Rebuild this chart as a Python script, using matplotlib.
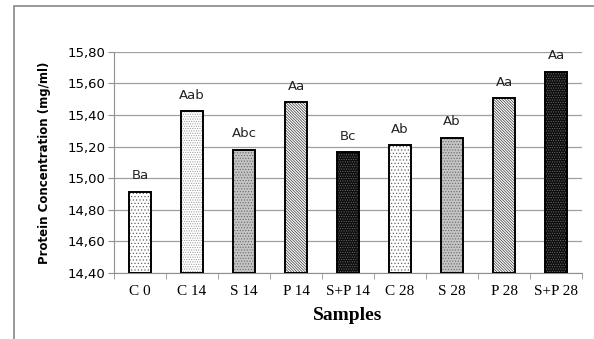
import matplotlib.pyplot as plt
from matplotlib import patches

samples = ['C 0', 'C 14', 'S 14', 'P 14', 'S+P 14', 'C 28', 'S 28', 'P 28', 'S+P 28']
protein = [14.915, 15.425, 15.18, 15.48, 15.165, 15.21, 15.255, 15.505, 15.675]
letters = ['Ba', 'Aab', 'Abc', 'Aa', 'Bc', 'Ab', 'Ab', 'Aa', 'Aa']
yticks = [14.40, 14.60, 14.80, 15.00, 15.20, 15.40, 15.60, 15.80]

plt.rcParams['hatch.linewidth'] = 0.5

# fill, hatch colour, hatch per group
styles = {
    'C': ('white', '#666666', '.....'),
    'C14': ('white', '#999999', '.......'),
    'S': ('#c4c4c4', '#6a6a6a', '......'),
    'P': ('white', '#333333', '\\\\\\\\\\\\\\\\\\\\\\\\'),
    'SP': ('#0d0d0d', '#6a6a6a', '.......'),
}
kinds = ['C', 'C14', 'S', 'P', 'SP', 'C', 'S', 'P', 'SP']

fig = plt.figure(figsize=(5.94, 3.39), dpi=100)
ax = fig.add_axes([0.192, 0.195, 0.788, 0.652])

x = range(len(samples))
for i, (v, k) in enumerate(zip(protein, kinds)):
    face, hc, hatch = styles[k]
    ax.bar(i, v - 14.40, bottom=14.40, width=0.42, color=face,
           edgecolor=hc, hatch=hatch, linewidth=0, zorder=3)
    ax.bar(i, v - 14.40, bottom=14.40, width=0.42, fill=False,
           edgecolor='black', linewidth=1.4, zorder=4)
    ax.text(i, v + 0.06, letters[i], ha='center', va='bottom',
            fontsize=9.5, family='DejaVu Sans', color='#222222')

ax.set_ylim(14.40, 15.80)
ax.set_xlim(-0.5, len(samples) - 0.5)
ax.set_yticks(yticks)
ax.set_yticklabels([f'{t:.2f}'.replace('.', ',') for t in yticks],
                   fontsize=9.5, family='DejaVu Sans')
ax.yaxis.grid(True, color='#a0a0a0', linewidth=0.9, zorder=0)
ax.set_axisbelow(True)

ax.set_xticks(list(x))
ax.set_xticklabels(samples, fontsize=11, family='Liberation Serif')
ax.set_xticks([i + 0.5 for i in range(-1, len(samples))], minor=True)
ax.tick_params(axis='x', which='major', length=0, pad=9)
ax.tick_params(axis='x', which='minor', length=4, color='#909090')
ax.tick_params(axis='y', length=4, color='#909090', pad=2)

for s in ['top', 'right']:
    ax.spines[s].set_visible(False)
for s in ['left', 'bottom']:
    ax.spines[s].set_color('#909090')

ax.set_ylabel('Protein Concentration (mg/ml)', fontsize=8.5,
              fontweight='bold', family='DejaVu Sans', labelpad=12)
ax.set_xlabel('Samples', fontsize=14, fontweight='bold',
              family='Liberation Serif', labelpad=6)

# outer chart frame
frame = patches.Rectangle((14 / 594, -0.1), 1.0, 1 - 6 / 339 + 0.1,
                          transform=fig.transFigure, fill=False,
                          edgecolor='#888888', linewidth=1.2)
fig.patches.append(frame)

fig.savefig('out.png', dpi=100)
